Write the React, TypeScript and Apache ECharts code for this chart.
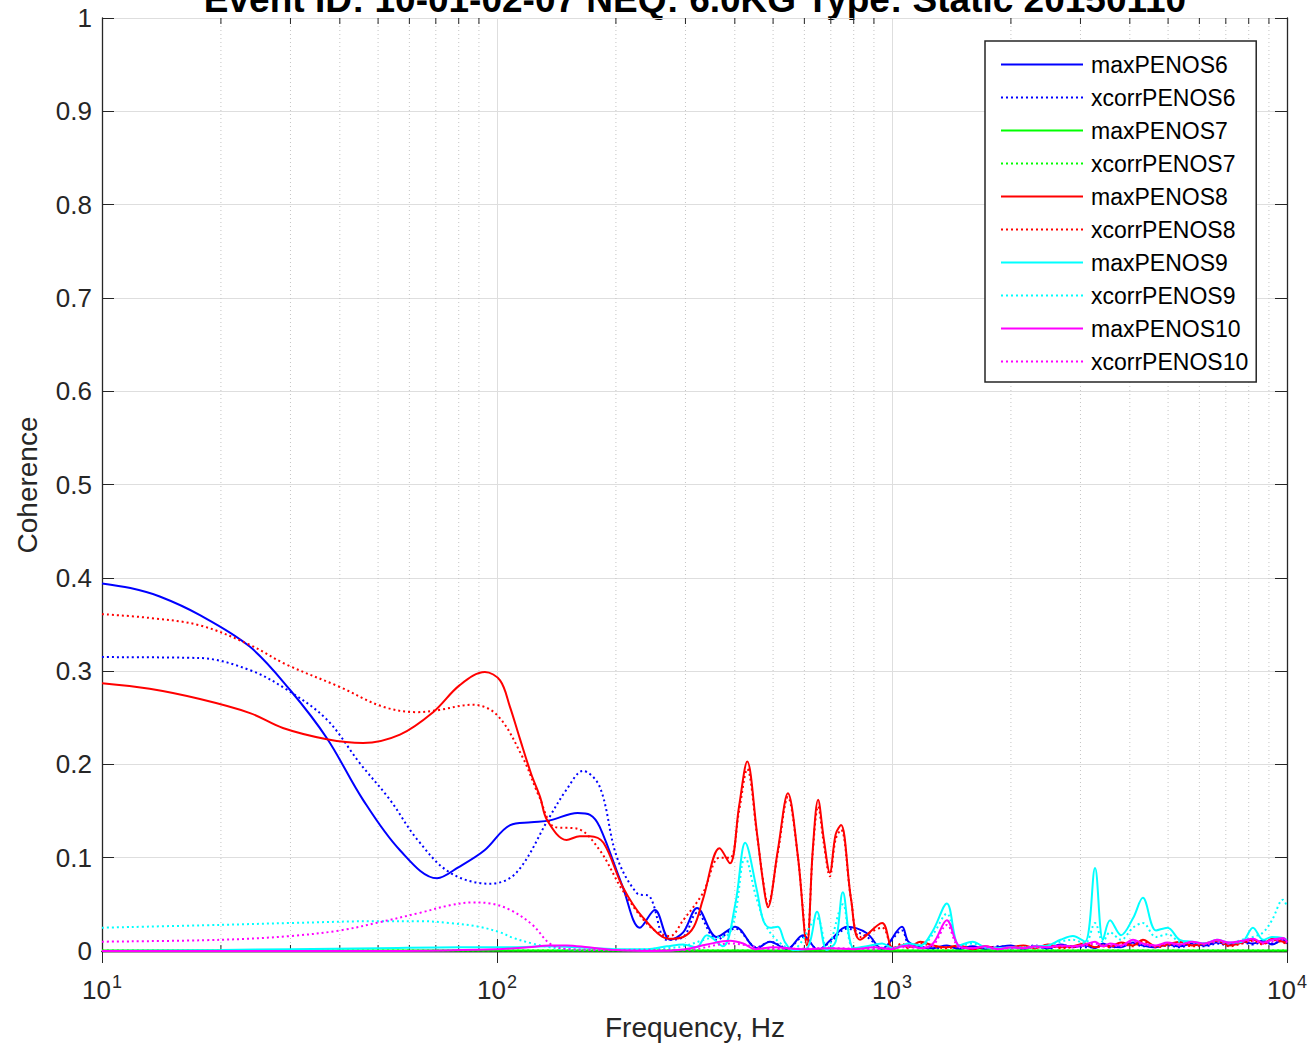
import React, { useEffect, useRef } from "react";
import * as echarts from "echarts";

const TITLE = "Event ID: 10-01-02-07 NEQ: 6.0KG Type: Static 20150110";
const X_NAME = "Frequency, Hz";
const Y_NAME = "Coherence";

const seriesNames = [
  "maxPENOS6", "xcorrPENOS6", "maxPENOS7", "xcorrPENOS7", "maxPENOS8",
  "xcorrPENOS8", "maxPENOS9", "xcorrPENOS9", "maxPENOS10", "xcorrPENOS10",
];
const seriesColors = [
  "#0000ff", "#0000ff", "#00ff00", "#00ff00", "#ff0000",
  "#ff0000", "#00ffff", "#00ffff", "#ff00ff", "#ff00ff",
];

// minor grid positions (Hz)
const minorFreqs = [
  20, 30, 40, 50, 60, 70, 80, 90,
  200, 300, 400, 500, 600, 700, 800, 900,
  2000, 3000, 4000, 5000, 6000, 7000, 8000, 9000,
];

// shared high-frequency grid (Hz)
const hfFreq = [
  1100, 1180, 1270, 1377, 1480, 1600, 1720, 1850, 2000, 2150, 2300, 2480,
  2670, 2870, 3080, 3266, 3420, 3565, 3800, 4075, 4316, 4660, 4980, 5350,
  5750, 6200, 6650, 7150, 7700, 8200, 8700, 9160, 9770, 10000,
];

// maxPENOS6
const f6 = [10, 11.8, 14, 17.7, 23.7, 29.9, 37.1, 45.8, 56.8, 70.5, 80, 93, 108, 122, 136, 160, 172, 182, 208, 230, 251, 274, 296, 321, 360, 401, 455, 491, 542, 595, 650, 700, 769, 864, 944, 1060];
const v6 = [0.394, 0.389, 0.38, 0.36, 0.326, 0.28, 0.228, 0.162, 0.108, 0.078, 0.09, 0.108, 0.135, 0.138, 0.14, 0.148, 0.146, 0.133, 0.069, 0.025, 0.044, 0.012, 0.02, 0.046, 0.015, 0.026, 0.003, 0.01, 0.002, 0.017, 0.001, 0.012, 0.026, 0.019, 0.002, 0.026];
const h6 = [0.01, 0.004, 0.003, 0.006, 0.002, 0.005, 0.002, 0.004, 0.006, 0.002, 0.005, 0.003, 0.007, 0.004, 0.006, 0.003, 0.008, 0.005, 0.004, 0.009, 0.006, 0.004, 0.007, 0.005, 0.008, 0.006, 0.009, 0.007, 0.01, 0.008, 0.011, 0.007, 0.012, 0.009];

// xcorrPENOS6
const fx6 = [10, 17.7, 23.7, 29.4, 37.1, 45, 53.6, 62.7, 76, 96, 112, 136, 150, 165, 182, 201, 226, 244, 269, 296, 321, 360, 401, 455, 491, 545, 595, 650, 700, 769, 864, 944, 1060];
const vx6 = [0.315, 0.314, 0.301, 0.28, 0.248, 0.201, 0.162, 0.12, 0.084, 0.072, 0.084, 0.144, 0.173, 0.193, 0.176, 0.101, 0.062, 0.058, 0.012, 0.015, 0.041, 0.012, 0.024, 0.004, 0.01, 0.003, 0.015, 0.002, 0.01, 0.024, 0.015, 0.003, 0.022];
const hx6 = [0.008, 0.005, 0.002, 0.005, 0.003, 0.004, 0.003, 0.005, 0.004, 0.003, 0.006, 0.002, 0.006, 0.005, 0.004, 0.004, 0.007, 0.004, 0.005, 0.008, 0.005, 0.005, 0.006, 0.004, 0.007, 0.005, 0.008, 0.006, 0.009, 0.007, 0.01, 0.008, 0.011, 0.008];

// maxPENOS7 / xcorrPENOS7
const f7 = [10, 100, 1000, 10000];
const v7 = [0.0005, 0.0005, 0.0005, 0.0005];
const vx7 = [0.0005, 0.0005, 0.0005, 0.0005];

// maxPENOS8
const f8 = [10, 13.2, 17.7, 23.7, 28.7, 37.1, 45.8, 56.8, 68.9, 80.5, 93.2, 101.8, 107.8, 114, 122, 128.6, 134, 150, 162, 172, 186, 208, 234, 274, 296, 315, 332, 366, 389, 410, 430, 455, 472, 485, 514, 545, 578, 609, 630, 650, 672, 696, 720, 743, 788, 830, 944, 1006, 1060];
const v8 = [0.287, 0.281, 0.27, 0.255, 0.239, 0.227, 0.223, 0.232, 0.256, 0.285, 0.299, 0.29, 0.262, 0.229, 0.19, 0.165, 0.14, 0.119, 0.123, 0.123, 0.116, 0.069, 0.036, 0.013, 0.015, 0.026, 0.055, 0.11, 0.094, 0.155, 0.203, 0.127, 0.073, 0.047, 0.108, 0.169, 0.101, 0.006, 0.108, 0.162, 0.12, 0.084, 0.125, 0.135, 0.055, 0.012, 0.03, 0.002, 0.006];
const h8 = [0.004, 0.01, 0.006, 0.004, 0.006, 0.002, 0.005, 0.003, 0.004, 0.006, 0.003, 0.007, 0.004, 0.005, 0.008, 0.004, 0.006, 0.005, 0.009, 0.006, 0.012, 0.005, 0.007, 0.01, 0.006, 0.008, 0.011, 0.006, 0.009, 0.012, 0.008, 0.013, 0.01, 0.009];

// xcorrPENOS8
const fx8 = [10, 13.2, 17.7, 23.7, 29.3, 40, 51.3, 62.7, 70.5, 86.6, 100, 116, 128, 140, 160, 182, 208, 244, 274, 296, 332, 366, 389, 410, 430, 455, 472, 485, 514, 545, 578, 609, 630, 650, 672, 696, 720, 743, 788, 830, 944, 1006, 1060];
const vx8 = [0.361, 0.357, 0.349, 0.328, 0.307, 0.283, 0.262, 0.256, 0.258, 0.264, 0.253, 0.208, 0.165, 0.133, 0.131, 0.108, 0.065, 0.026, 0.016, 0.033, 0.062, 0.1, 0.1, 0.15, 0.195, 0.125, 0.075, 0.05, 0.105, 0.165, 0.1, 0.01, 0.105, 0.155, 0.115, 0.08, 0.12, 0.13, 0.055, 0.015, 0.025, 0.003, 0.008];
const hx8 = [0.003, 0.008, 0.005, 0.003, 0.005, 0.002, 0.004, 0.003, 0.003, 0.005, 0.003, 0.006, 0.003, 0.004, 0.007, 0.004, 0.005, 0.004, 0.008, 0.005, 0.01, 0.004, 0.006, 0.009, 0.005, 0.007, 0.01, 0.005, 0.008, 0.011, 0.007, 0.012, 0.009, 0.008];

// maxPENOS9
const f9 = [10, 20, 30, 50, 80, 110, 136, 160, 200, 240, 269, 296, 320, 340, 373, 401, 425, 455, 472, 491, 514, 535, 561, 609, 646, 684, 720, 751, 800, 864, 944, 1006, 1060];
const v9 = [0, 0.001, 0.002, 0.003, 0.004, 0.004, 0.005, 0.004, 0.002, 0.002, 0.005, 0.007, 0.004, 0.017, 0.005, 0.05, 0.116, 0.065, 0.033, 0.025, 0.026, 0.01, 0.001, 0.003, 0.042, 0.001, 0.01, 0.063, 0.003, 0.005, 0.008, 0.003, 0.006];
const h9 = [0.008, 0.006, 0.022, 0.051, 0.006, 0.01, 0.004, 0.003, 0.004, 0.003, 0.005, 0.006, 0.012, 0.016, 0.01, 0.089, 0.012, 0.033, 0.017, 0.035, 0.057, 0.022, 0.025, 0.012, 0.01, 0.008, 0.012, 0.009, 0.01, 0.025, 0.012, 0.015, 0.014, 0.012];

// xcorrPENOS9
const fx9 = [10, 20, 30, 50.6, 63.9, 76, 90, 101.8, 110, 123, 136, 150, 200, 269, 296, 340, 389, 425, 455, 491, 561, 646, 684, 751, 800, 900, 1006, 1060];
const vx9 = [0.025, 0.028, 0.03, 0.032, 0.032, 0.03, 0.026, 0.02, 0.014, 0.008, 0.004, 0.002, 0.001, 0.003, 0.005, 0.013, 0.02, 0.1, 0.055, 0.02, 0.002, 0.035, 0.002, 0.05, 0.003, 0.004, 0.003, 0.005];
const hx9 = [0.006, 0.005, 0.018, 0.04, 0.005, 0.008, 0.004, 0.003, 0.003, 0.004, 0.004, 0.005, 0.01, 0.012, 0.008, 0.03, 0.01, 0.02, 0.012, 0.025, 0.03, 0.015, 0.018, 0.01, 0.009, 0.008, 0.01, 0.008, 0.012, 0.015, 0.02, 0.033, 0.055, 0.048];

// maxPENOS10
const f10 = [10, 50, 100, 120, 136, 150, 170, 200, 250, 300, 340, 389, 420, 450, 500, 600, 700, 800, 900, 1000, 1060];
const v10 = [0, 0, 0.002, 0.004, 0.006, 0.006, 0.004, 0.001, 0, 0.002, 0.007, 0.011, 0.008, 0.002, 0.004, 0.002, 0.003, 0.002, 0.004, 0.002, 0.005];
const h10 = [0.006, 0.003, 0.008, 0.033, 0.005, 0.003, 0.005, 0.002, 0.004, 0.003, 0.005, 0.004, 0.006, 0.005, 0.007, 0.01, 0.005, 0.008, 0.006, 0.012, 0.008, 0.006, 0.009, 0.007, 0.01, 0.008, 0.012, 0.009, 0.011, 0.013, 0.009, 0.012, 0.014, 0.01];

// xcorrPENOS10
const fx10 = [10, 20, 29.9, 40, 50.6, 63.9, 76, 86.6, 96, 108, 123, 136, 150, 200, 300, 389, 500, 700, 900, 1060];
const vx10 = [0.01, 0.012, 0.016, 0.022, 0.031, 0.041, 0.049, 0.052, 0.051, 0.044, 0.028, 0.008, 0.002, 0.001, 0.001, 0.008, 0.002, 0.003, 0.002, 0.004];
const hx10 = [0.004, 0.003, 0.006, 0.028, 0.004, 0.003, 0.004, 0.002, 0.003, 0.003, 0.004, 0.004, 0.005, 0.004, 0.006, 0.008, 0.005, 0.006, 0.005, 0.01, 0.007, 0.005, 0.008, 0.006, 0.009, 0.007, 0.01, 0.008, 0.01, 0.011, 0.008, 0.01, 0.012, 0.009];

const pairs = (f: number[], v: number[]) => f.map((x, i) => [x, v[i]]);
const withHf = (f: number[], v: number[], h: number[] | null) =>
  h ? pairs(f, v).concat(pairs(hfFreq, h)) : pairs(f, v);

const seriesData = [
  withHf(f6, v6, h6),
  withHf(fx6, vx6, hx6),
  withHf(f7, v7, null),
  withHf(f7, vx7, null),
  withHf(f8, v8, h8),
  withHf(fx8, vx8, hx8),
  withHf(f9, v9, h9),
  withHf(fx9, vx9, hx9),
  withHf(f10, v10, h10),
  withHf(fx10, vx10, hx10),
];

const FONT = "Liberation Sans";
const AX = "#262626";

export default function App() {
  const ref = useRef<HTMLDivElement>(null);
  useEffect(() => {
    document.body.style.margin = "0";
    const chart = echarts.init(ref.current as HTMLDivElement, null, { renderer: "svg" });
    const lineSeries = seriesNames.map((name, i) => ({
      name,
      type: "line",
      data: seriesData[i],
      symbol: "none",
      smooth: 0.35,
      z: 3,
      color: seriesColors[i],
      lineStyle: {
        color: seriesColors[i],
        width: 2,
        type: i % 2 === 1 ? [2, 3] : "solid",
      },
    }));
    const option: any = {
      animation: false,
      backgroundColor: "#ffffff",
      textStyle: { fontFamily: FONT },
      grid: { left: 102, top: 18, width: 1185, height: 933, containLabel: false },
      xAxis: [
        {
          type: "log",
          logBase: 10,
          min: 10,
          max: 10000,
          axisLine: { show: true, lineStyle: { color: AX, width: 1.3 } },
          axisTick: { show: true, inside: true, length: 12, lineStyle: { color: AX } },
          splitLine: { show: true, lineStyle: { color: "#dedede", width: 1 } },
          axisLabel: {
            margin: 22,
            showMinLabel: true,
            showMaxLabel: true,
            formatter: (v: number) => `{b|10}{s|${Math.round(Math.log10(v))}}`,
            rich: {
              b: { fontSize: 26, fontFamily: FONT, color: AX },
              s: { fontSize: 18, fontFamily: FONT, color: AX, padding: [0, 0, 15, 1] },
            },
          },
        },
        {
          type: "log",
          logBase: 10,
          min: 10,
          max: 10000,
          position: "top",
          axisLine: { show: true, lineStyle: { color: AX, width: 1.3 } },
          axisTick: { show: true, inside: true, length: 12, lineStyle: { color: AX } },
          axisLabel: { show: false },
          splitLine: { show: false },
        },
      ],
      yAxis: [
        {
          type: "value",
          min: 0,
          max: 1,
          interval: 0.1,
          axisLine: { show: true, lineStyle: { color: AX, width: 1.3 } },
          axisTick: { show: true, inside: true, length: 12, lineStyle: { color: AX } },
          splitLine: { show: true, lineStyle: { color: "#dedede", width: 1 } },
          axisLabel: { fontSize: 26, fontFamily: FONT, color: AX, margin: 10 },
        },
        {
          type: "value",
          min: 0,
          max: 1,
          interval: 0.1,
          position: "right",
          axisLine: { show: true, lineStyle: { color: AX, width: 1.3 } },
          axisTick: { show: true, inside: true, length: 12, lineStyle: { color: AX } },
          axisLabel: { show: false },
          splitLine: { show: false },
        },
      ],
      legend: {
        data: seriesNames,
        orient: "vertical",
        left: 985,
        top: 41,
        itemWidth: 82,
        itemHeight: 20,
        itemGap: 10,
        padding: [12, 8, 9, 15],
        backgroundColor: "#ffffff",
        borderColor: AX,
        borderWidth: 1.5,
        borderRadius: 0,
        itemStyle: { opacity: 0 },
        textStyle: { fontSize: 23, lineHeight: 20, fontFamily: FONT, color: "#000000", padding: [0, 0, 0, 3] },
      },
      graphic: [
        {
          type: "text",
          x: 695,
          y: 1027,
          style: { text: X_NAME, fontSize: 28, fontFamily: FONT, fill: AX, textAlign: "center", textVerticalAlign: "middle" },
        },
        {
          type: "text",
          x: 27,
          y: 485,
          rotation: Math.PI / 2,
          style: { text: Y_NAME, fontSize: 28, fontFamily: FONT, fill: AX, textAlign: "center", textVerticalAlign: "middle" },
        },
        {
          type: "text",
          x: 695,
          y: -1,
          style: { text: TITLE, fontSize: 37, fontWeight: "bold", fontFamily: FONT, fill: "#000000", textAlign: "center", textVerticalAlign: "middle" },
        },
      ],
      series: [
        {
          type: "custom",
          name: "minorGrid",
          silent: true,
          z: 1,
          clip: false,
          data: minorFreqs.map((f) => [f, 0]),
          renderItem: (params: any, api: any) => {
            const f = api.value(0);
            const p0 = api.coord([f, 0]);
            const p1 = api.coord([f, 1]);
            return {
              type: "group",
              children: [
                { type: "line", shape: { x1: p0[0], y1: p0[1], x2: p1[0], y2: p1[1] }, style: { stroke: "#c4c4c4", lineWidth: 1, lineDash: [1, 3] } },
                { type: "line", shape: { x1: p0[0], y1: p0[1], x2: p0[0], y2: p0[1] - 6 }, style: { stroke: AX, lineWidth: 1 } },
                { type: "line", shape: { x1: p1[0], y1: p1[1], x2: p1[0], y2: p1[1] + 6 }, style: { stroke: AX, lineWidth: 1 } },
              ],
            };
          },
        },
        ...lineSeries,
      ],
    };
    chart.setOption(option);
    return () => chart.dispose();
  }, []);
  return <div ref={ref} style={{ width: 1316, height: 1049 }} />;
}
